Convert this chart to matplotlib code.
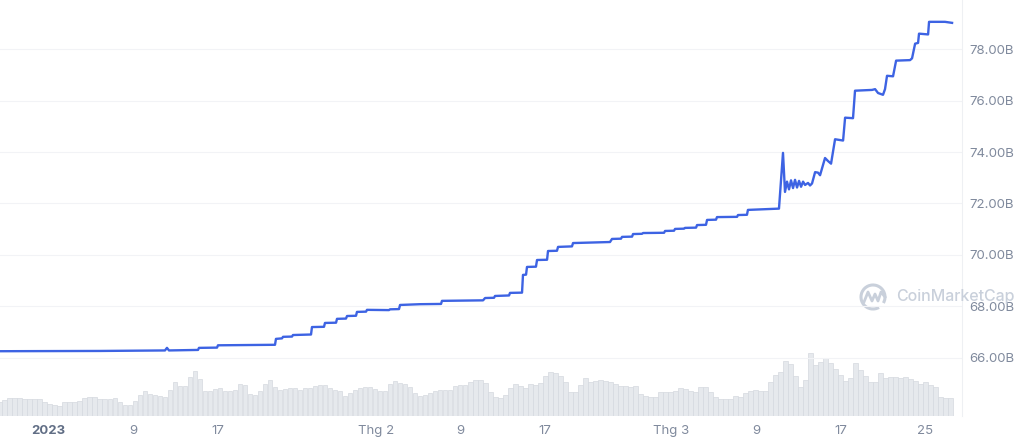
import matplotlib
matplotlib.use("Agg")
import matplotlib.pyplot as plt
import pandas as pd
from matplotlib.patches import Arc
from matplotlib.lines import Line2D
from matplotlib.transforms import IdentityTransform

plt.rcParams['font.family'] = ['Inter', 'DejaVu Sans']

# market cap line: days since 2023-01-01 and value in billions
price_days = [-4.59, 4.88, 11.03, 11.22, 11.41, 14.16, 14.25, 15.96, 16.05, 21.45,
              21.54, 22.11, 22.21, 23.06, 23.15, 24.86, 24.95, 26.09, 26.18, 27.23,
              27.32, 28.17, 28.27, 29.12, 29.21, 30.07, 30.16, 32.24, 32.34, 33.19,
              33.29, 35.18, 37.17, 37.26, 41.15, 41.34, 42.19, 42.28, 43.61, 43.70,
              44.84, 44.93, 45.22, 45.31, 46.16, 46.26, 47.21, 47.30, 48.15, 48.25,
              49.57, 49.67, 53.17, 53.36, 54.21, 54.31, 55.26, 55.35, 56.20, 56.30,
              58.29, 58.38, 59.23, 59.33, 60.18, 60.27, 61.32, 61.41, 62.26, 62.36,
              63.21, 63.30, 65.20, 65.29, 66.14, 66.23, 69.17, 69.55, 69.74, 69.93,
              70.12, 70.31, 70.50, 70.69, 70.88, 71.07, 71.26, 71.45, 71.64, 71.92,
              72.11, 72.30, 72.59, 72.87, 73.06, 73.53, 73.82, 74.10, 74.48, 75.24,
              75.43, 76.18, 76.37, 77.98, 78.27, 78.55, 79.02, 79.21, 79.40, 79.97,
              80.26, 81.58, 81.77, 82.06, 82.34, 82.43, 83.29, 83.38, 84.89, 85.56]
price_b = [66.25, 66.26, 66.28, 66.38, 66.28, 66.30, 66.38, 66.39, 66.48, 66.50,
           66.73, 66.75, 66.81, 66.82, 66.88, 66.90, 67.19, 67.20, 67.35, 67.36,
           67.51, 67.52, 67.62, 67.63, 67.78, 67.79, 67.86, 67.85, 67.88, 67.89,
           68.05, 68.08, 68.09, 68.21, 68.23, 68.32, 68.33, 68.40, 68.42, 68.52,
           68.53, 69.22, 69.23, 69.53, 69.54, 69.80, 69.81, 70.15, 70.16, 70.31,
           70.33, 70.46, 70.50, 70.62, 70.63, 70.70, 70.71, 70.81, 70.82, 70.85,
           70.86, 70.93, 70.94, 71.01, 71.02, 71.05, 71.06, 71.16, 71.17, 71.36,
           71.37, 71.47, 71.48, 71.55, 71.56, 71.75, 71.80, 73.97, 72.45, 72.85,
           72.55, 72.90, 72.60, 72.92, 72.62, 72.88, 72.65, 72.85, 72.72, 72.80,
           72.70, 72.78, 73.22, 73.20, 73.10, 73.77, 73.65, 73.55, 74.50, 74.45,
           75.34, 75.32, 76.39, 76.42, 76.45, 76.30, 76.23, 76.45, 76.97, 76.95,
           77.56, 77.58, 77.65, 78.22, 78.25, 78.61, 78.58, 79.07, 79.07, 79.03]

# volume bars (relative)
volume = [1.40, 1.57, 1.73, 1.80, 1.73, 1.67, 1.63, 1.63, 1.63, 1.40, 1.13, 1.07,
          1.00, 1.33, 1.33, 1.33, 1.47, 1.73, 1.90, 1.83, 1.67, 1.63, 1.67, 1.73,
          1.40, 1.07, 1.07, 1.47, 2.07, 2.47, 2.13, 2.07, 1.97, 1.90, 2.60, 3.40,
          3.00, 2.95, 3.90, 4.50, 3.70, 2.50, 2.45, 2.70, 2.80, 2.50, 2.47, 2.55,
          3.13, 3.07, 2.13, 2.07, 2.47, 3.20, 3.57, 2.90, 2.57, 2.63, 2.77, 2.73,
          2.60, 2.80, 2.80, 3.00, 3.07, 3.10, 2.73, 2.60, 2.50, 2.00, 2.23, 2.57,
          2.80, 2.90, 2.90, 2.67, 2.50, 2.43, 3.13, 3.47, 3.30, 3.20, 2.90, 2.30,
          2.00, 2.07, 2.30, 2.50, 2.57, 2.57, 2.60, 3.00, 3.10, 3.10, 3.40, 3.57,
          3.57, 3.23, 2.40, 1.90, 1.80, 2.07, 2.73, 3.13, 3.00, 2.80, 3.13, 3.10,
          3.30, 4.00, 4.33, 4.23, 3.97, 3.40, 2.37, 2.40, 3.10, 3.80, 3.37, 3.43,
          3.53, 3.47, 3.37, 3.13, 3.00, 3.00, 2.90, 3.00, 2.13, 2.00, 1.90, 1.90,
          2.33, 2.40, 2.33, 2.47, 2.73, 2.67, 2.47, 2.40, 2.90, 2.90, 2.40, 1.90,
          1.67, 1.63, 1.70, 1.97, 1.90, 2.23, 2.47, 2.57, 2.50, 2.47, 3.40, 4.07,
          4.40, 5.47, 5.13, 4.00, 2.90, 3.60, 6.23, 5.07, 5.40, 5.80, 5.27, 4.67,
          4.10, 3.50, 3.80, 5.27, 4.60, 4.00, 3.33, 3.37, 4.27, 3.80, 3.90, 3.83,
          3.73, 3.83, 3.70, 3.50, 3.17, 3.40, 3.07, 2.90, 1.87, 1.80, 1.73]

y_ticks = [66, 68, 70, 72, 74, 76, 78]
x_tick_dates = ['2023-01-01', '2023-01-09', '2023-01-17', '2023-02-01', '2023-02-09',
                '2023-02-17', '2023-03-01', '2023-03-09', '2023-03-17', '2023-03-25']
x_tick_labels = ['2023', '9', '17', 'Thg 2', '9', '17', 'Thg 3', '9', '17', '25']

base = pd.Timestamp('2023-01-01')
t_price = base + pd.to_timedelta(price_days, unit='D')
t_vol = pd.date_range('2022-12-27 09:46', '2023-03-27 08:53', periods=len(volume))

fig = plt.figure(figsize=(10.24, 4.44), dpi=100)
ax = fig.add_axes([0, 28.3 / 444, 962 / 1024, 415.7 / 444])
axv = ax.twinx()

axv.bar(t_vol, volume, width=0.47, color='#e6e9ed', edgecolor='#d5d9df', linewidth=0.5)
axv.set_ylim(0, 41.57)
axv.set_yticks([])
for s in axv.spines.values():
    s.set_visible(False)

ax.set_zorder(axv.get_zorder() + 1)
ax.patch.set_visible(False)
ax.plot(t_price, price_b, color='#3d63e3', lw=1.7, solid_joinstyle='round')
ax.set_ylim(63.74, 79.92)
ax.set_xlim(pd.Timestamp('2022-12-27 09:50'), pd.Timestamp('2023-03-28 12:00'))

ax.yaxis.tick_right()
ax.set_yticks(y_ticks)
ax.set_yticklabels([f'{v:.2f}B' for v in y_ticks])
ax.set_xticks(pd.to_datetime(x_tick_dates))
ax.set_xticklabels(x_tick_labels)
ax.tick_params(axis='both', length=0, labelsize=9.5, colors='#808a9d')
ax.tick_params(axis='y', pad=5)
ax.tick_params(axis='x', pad=7)
first = ax.get_xticklabels()[0]
first.set_fontweight('bold')
first.set_color('#616e85')

ax.grid(axis='y', color='#f2f3f6', lw=0.8)
for side in ['left', 'top', 'bottom']:
    ax.spines[side].set_visible(False)
ax.spines['right'].set_color('#eef0f3')
ax.spines['right'].set_linewidth(0.8)

# watermark
wm = '#c9d0db'
fig.add_artist(Arc((873, 147), 24, 24, theta1=-30, theta2=300, transform=IdentityTransform(),
                   color=wm, lw=2.2))
fig.add_artist(Line2D([864, 868, 872, 875, 878, 881, 885], [142, 152, 143, 150, 143, 152, 147],
                      transform=IdentityTransform(), color=wm, lw=2.0))
fig.text(896 / 1024, 147 / 444, 'CoinMarketCap', fontsize=11.5, color=wm,
         va='center', ha='left', fontweight='medium')

fig.savefig('out.png', dpi=100)
